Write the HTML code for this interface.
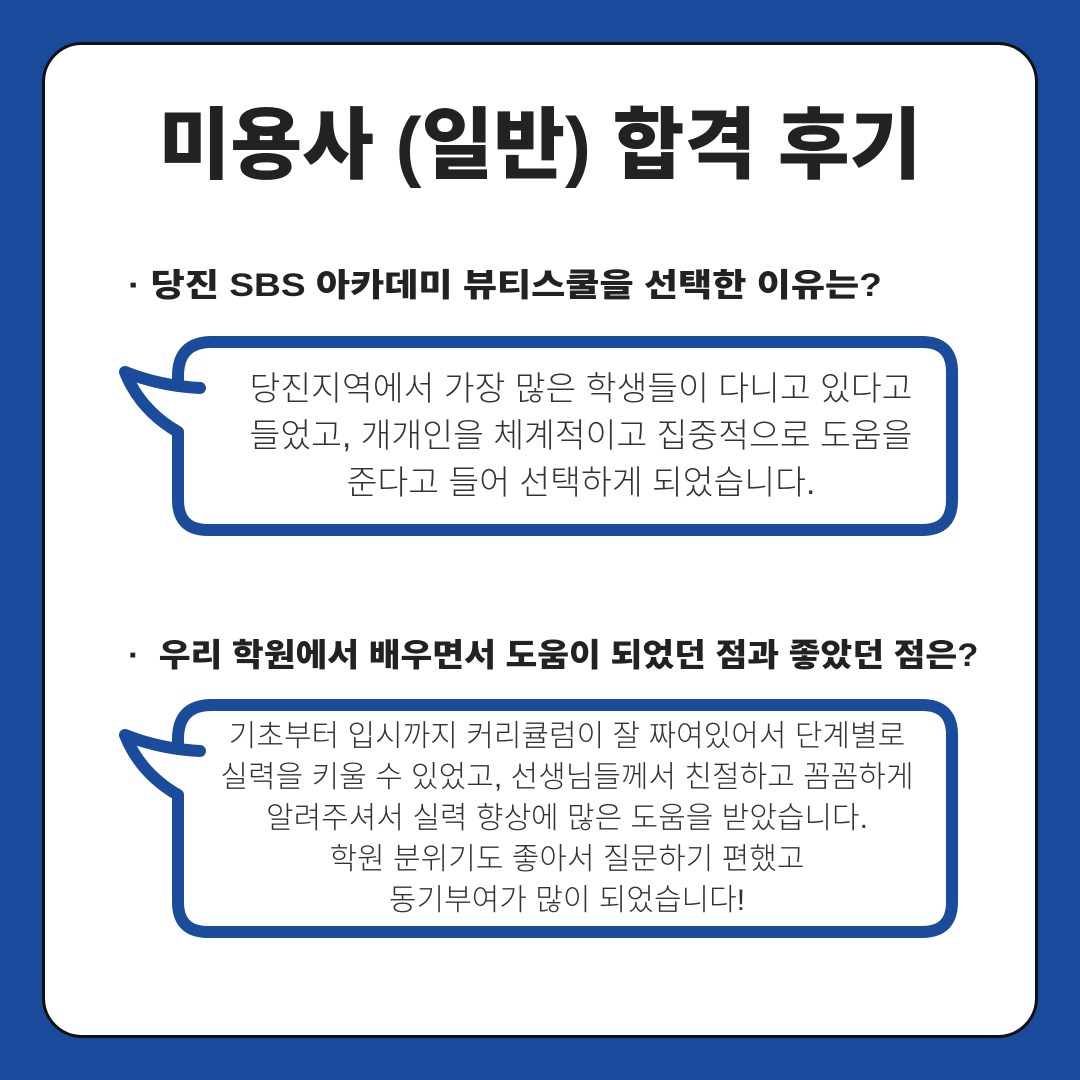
<!DOCTYPE html>
<html><head><meta charset="utf-8"><style>
body{margin:0;width:1080px;height:1080px;background:#1a4a9c;position:relative;overflow:hidden;font-family:"Liberation Sans","Noto Sans CJK KR",sans-serif;}
.card{position:absolute;left:42px;top:42px;width:990px;height:990px;background:#fff;border:3px solid #111;border-radius:40px;}
.t{position:absolute;white-space:nowrap;color:#222;}
.title{left:0;width:1080px;text-align:center;top:95px;font-size:78px;font-weight:900;line-height:100px;}
.q{font-size:32px;font-weight:900;line-height:40px;transform-origin:0 50%;}
.b{left:172px;width:786px;text-align:center;font-size:30px;font-weight:300;color:#333;}
</style></head><body>
<div class="card"></div>
<svg width="1080" height="1080" style="position:absolute;left:0;top:0">
<g fill="none" stroke="#1b4b9b" stroke-width="12" stroke-linecap="round" stroke-linejoin="round">
<path d="M200 388 Q160 386 125 372 Q140 410 178 432 L178 500 Q178 530 208 530 L922 530 Q952 530 952 500 L952 372 Q952 342 922 342 L212 342 Q178 342 178 376 L178 386"/>
<path d="M200 751 Q160 749 125 735 Q140 773 178 795 L178 902 Q178 932 208 932 L922 932 Q952 932 952 902 L952 735 Q952 705 922 705 L212 705 Q178 705 178 739 L178 749"/>
</g></svg>
<div class="t title">미용사 (일반) 합격 후기</div>
<div class="t q" style="left:128px;top:265px;transform:scaleX(1.16)">· 당진 SBS 아카데미 뷰티스쿨을 선택한 이유는?</div>
<div class="t q" style="left:128px;top:635px;transform:scaleX(1.08)">·&nbsp; 우리 학원에서 배우면서 도움이 되었던 점과 좋았던 점은?</div>
<div class="t b" style="top:366px;line-height:47px;left:200px;width:762px;font-size:33.5px">당진지역에서 가장 많은 학생들이 다니고 있다고<br>들었고, 개개인을 체계적이고 집중적으로 도움을<br>준다고 들어 선택하게 되었습니다.</div>
<div class="t b" style="top:716px;line-height:41px;left:182px;width:770px">기초부터 입시까지 커리큘럼이 잘 짜여있어서 단계별로<br>실력을 키울 수 있었고, 선생님들께서 친절하고 꼼꼼하게<br>알려주셔서 실력 향상에 많은 도움을 받았습니다.<br>학원 분위기도 좋아서 질문하기 편했고<br>동기부여가 많이 되었습니다!</div>
</body></html>
